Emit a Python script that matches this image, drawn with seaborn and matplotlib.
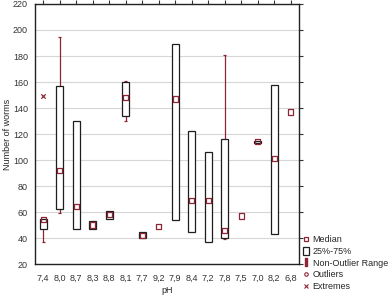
import numpy as np
import pandas as pd
import matplotlib
matplotlib.use("Agg")
import matplotlib.pyplot as plt
import seaborn as sns
from matplotlib.lines import Line2D
from matplotlib.patches import Rectangle

ph_labels = ['7,4', '8,0', '8,7', '8,3', '8,8', '8,1', '7,7', '9,2',
             '7,9', '8,4', '7,2', '7,8', '7,5', '7,0', '8,2', '6,8']
medians = [54, 92, 64, 50, 58, 148, 42, 49, 147, 69, 69, 46, 57, 114, 101, 137]
q1 = [47, 62, 47, 47, 55, 134, 40, 49, 54, 45, 37, 40, 57, 113, 43, 137]
q3 = [55, 157, 130, 53, 61, 160, 45, 49, 189, 122, 106, 116, 57, 115, 158, 137]
whisker_low = [37, 59, 47, 47, 55, 130, 40, 49, 54, 45, 37, 39, 57, 113, 43, 137]
whisker_high = [55, 195, 130, 53, 61, 161, 45, 49, 189, 122, 106, 181, 57, 115, 158, 137]
extreme_ph = ['7,4']
extreme_val = [149]

sns.set_style("white")
plt.rcParams['font.family'] = ['Liberation Sans', 'DejaVu Sans']

RED = '#8e2535'
EDGE = '#1e1e1e'

fig = plt.figure(figsize=(3.92, 2.96), dpi=100)
ax = fig.add_axes([0.0893, 0.108, 0.6735, 0.8785])

df = pd.DataFrame({'pH': ph_labels, 'median': medians, 'q1': q1, 'q3': q3,
                   'lo': whisker_low, 'hi': whisker_high})
df['pos'] = np.arange(len(df))

# grid
ax.set_ylim(20, 220)
ax.set_xlim(-0.5, len(df) - 0.5)
ax.set_yticks(np.arange(20, 221, 20))
ax.yaxis.grid(True, color='#d6d6d6', linewidth=0.8, zorder=0)
ax.set_axisbelow(True)

# boxes
boxes = df[df['q3'] > df['q1']]
ax.bar(boxes['pos'], boxes['q3'] - boxes['q1'], bottom=boxes['q1'], width=0.42,
       color='white', edgecolor=EDGE, linewidth=0.9, zorder=2)

# whiskers
cap = 0.09
up = df[df['hi'] > df['q3']]
ax.vlines(up['pos'], up['q3'], up['hi'], color=RED, linewidth=0.9, zorder=1.5)
ax.hlines(up['hi'], up['pos'] - cap, up['pos'] + cap, color=RED, linewidth=0.9, zorder=1.5)
dn = df[df['lo'] < df['q1']]
ax.vlines(dn['pos'], dn['lo'], dn['q1'], color=RED, linewidth=0.9, zorder=1.5)
ax.hlines(dn['lo'], dn['pos'] - cap, dn['pos'] + cap, color=RED, linewidth=0.9, zorder=1.5)

# medians
sns.scatterplot(data=df, x='pos', y='median', marker='s', s=14,
                facecolor='none', edgecolor=RED, linewidth=0.9, ax=ax, zorder=3)

# extremes
ext = pd.DataFrame({'pos': [ph_labels.index(p) for p in extreme_ph], 'val': extreme_val})
sns.scatterplot(data=ext, x='pos', y='val', marker='x', s=10, color=RED,
                linewidth=0.9, ax=ax, zorder=3)

ax.set_xticks(df['pos'])
ax.set_xticklabels(ph_labels)
ax.set_xlabel('pH', fontsize=6.5, labelpad=2)
ax.set_ylabel('Number of worms', fontsize=6.5, labelpad=1)
ax.tick_params(axis='both', labelsize=6.5, colors='#333333', length=3, width=0.8,
               direction='out', pad=2)
ax.tick_params(axis='x', pad=4)
ax.tick_params(top=True, right=True, which='both')
for sp in ax.spines.values():
    sp.set_color('#222222')
    sp.set_linewidth(1.0)
    sp.set_visible(True)

# legend
handles = [
    Line2D([], [], marker='s', markersize=3.5, markerfacecolor='none',
           markeredgecolor=RED, linestyle='none', markeredgewidth=0.9),
    Rectangle((0, 0), 1, 1, facecolor='white', edgecolor=EDGE, linewidth=0.9),
    Line2D([], [], marker=r'$\mathrm{I}$', markersize=6, color=RED, linestyle='none'),
    Line2D([], [], marker='o', markersize=2.5, markerfacecolor='none',
           markeredgecolor=RED, linestyle='none', markeredgewidth=0.8),
    Line2D([], [], marker='x', markersize=2.5, color=RED, linestyle='none',
           markeredgewidth=0.8),
]
labels = ['Median', '25%-75%', 'Non-Outlier Range', 'Outliers', 'Extremes']
fig.legend(handles, labels, loc='upper left', bbox_to_anchor=(0.772, 0.205),
           frameon=False, fontsize=6.5, handlelength=0.7, handleheight=1.0,
           handletextpad=0.4, labelspacing=0.28, borderaxespad=0, borderpad=0)

fig.savefig('out.png', dpi=100)
